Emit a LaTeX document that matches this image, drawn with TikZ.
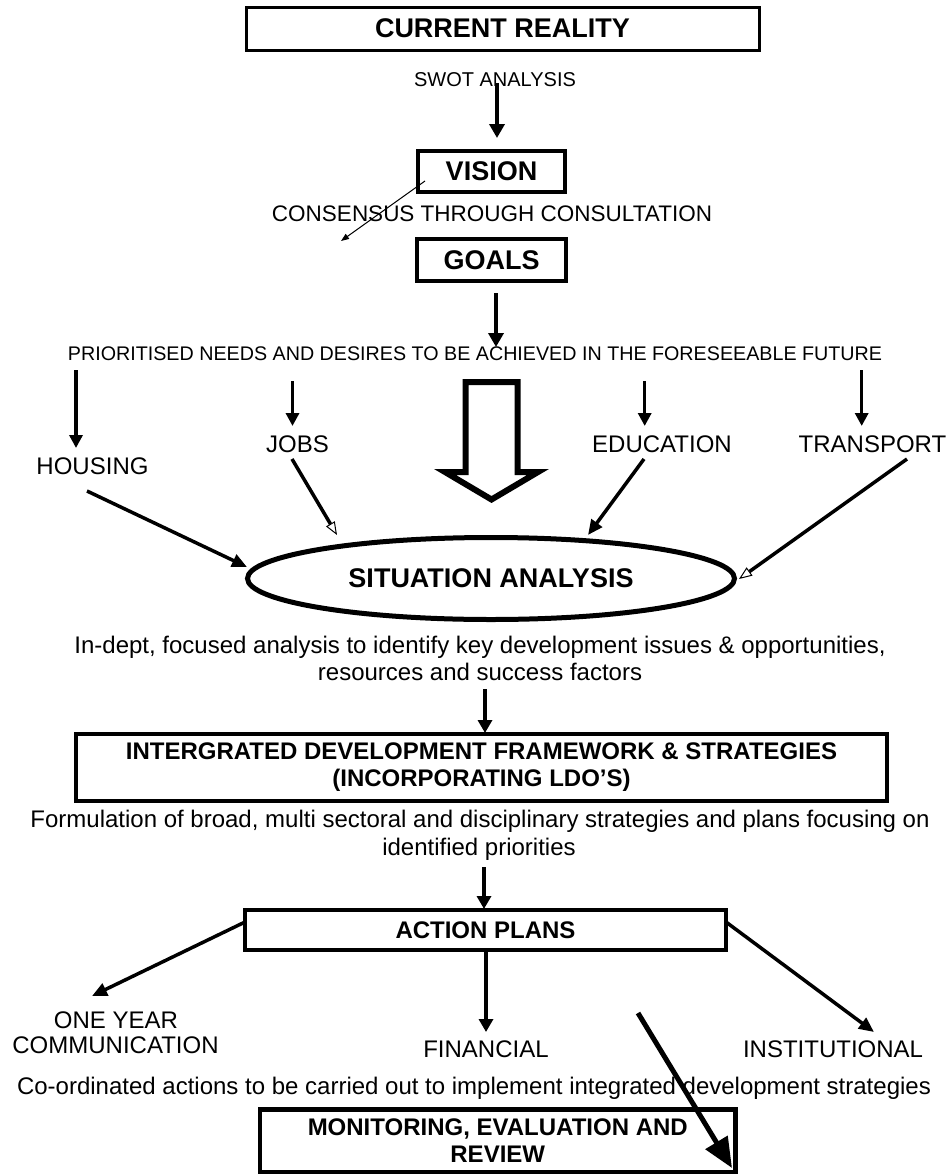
\documentclass[tikz,border=0pt]{standalone}
\usepackage{fontspec}
\setmainfont{Liberation Sans}
\usetikzlibrary{arrows.meta,shapes.geometric}
\newcommand\myfs[2]{\fontsize{#1pt}{#2pt}\selectfont}
\tikzset{
  boxed/.style={draw=black, line width=4pt, rectangle, inner sep=0pt, align=center, font=\bfseries\myfs{24}{27}},
  bigbox/.style={boxed, font=\bfseries\myfs{27}{30}},
  lbl/.style={inner sep=0pt, anchor=base, font=\myfs{24}{27}},
  mainarr/.style={line width=4.5pt, -{Triangle[width=15pt,length=14pt]}},
  medarr/.style={line width=3.5pt, -{Triangle[width=14pt,length=13pt]}},
  smallarr/.style={line width=3.5pt, -{Triangle[width=13pt,length=13pt]}},
  diagarr/.style={line width=3.5pt, -{Triangle[width=13pt,length=15pt]}},
  openarr/.style={line width=3.5pt, -{Triangle[width=10pt,length=13pt,fill=white,line width=1pt]}},
  thinarr/.style={line width=1pt, -{Triangle[width=6pt,length=8pt]}},
  hugearr/.style={line width=5pt, -{Triangle[width=25pt,length=30pt]}},
}
\begin{document}
\begin{tikzpicture}[x=1pt,y=-1pt]
\useasboundingbox (0,0) rectangle (949,1175);
\fill[white] (0,0) rectangle (949,1175);

% boxes and texts
\node[bigbox, line width=3pt, minimum width=513pt, minimum height=43pt] (cr) at (502.5,28.5) {CURRENT REALITY};
\node[lbl, font=\myfs{20}{24}] (swot) at (495,86) {SWOT ANALYSIS};
\node[bigbox, line width=3.5pt, minimum width=147pt, minimum height=41pt] (vision) at (491.5,171.5) {VISION};
\node[lbl, font=\myfs{22.5}{26}] (cons) at (492,221) {CONSENSUS THROUGH CONSULTATION};
\node[bigbox, line width=3.5pt, minimum width=149pt, minimum height=42pt] (goals) at (491.5,260) {GOALS};
\node[lbl, font=\myfs{19.7}{23}] (prior) at (475,360) {PRIORITISED NEEDS AND DESIRES TO BE ACHIEVED IN THE FORESEEABLE FUTURE};

\node[lbl] (housing) at (92.5,474) {HOUSING};
\node[lbl] (jobs) at (297.5,452) {JOBS};
\node[lbl] (edu) at (662,452) {EDUCATION};
\node[lbl] (trans) at (872.5,452) {TRANSPORT};

\node[draw, ellipse, line width=5pt, minimum width=487pt, minimum height=82pt, inner sep=0pt, font=\bfseries\myfs{27}{30}] (sit) at (491,578.5) {SITUATION ANALYSIS};

\node[lbl] (ind1) at (480,653) {In-dept, focused analysis to identify key development issues \& opportunities,};
\node[lbl] (ind2) at (480,680) {resources and success factors};

\node[boxed, minimum width=811pt, minimum height=67.5pt] (idf) at (481.5,767.5) {INTERGRATED DEVELOPMENT FRAMEWORK \& STRATEGIES\\(INCORPORATING LDO’S)};

\node[lbl] (form1) at (480,827) {Formulation of broad, multi sectoral and disciplinary strategies and plans focusing on};
\node[lbl] (form2) at (479,855) {identified priorities};

\node[boxed, minimum width=481pt, minimum height=40pt] (act) at (485.5,930) {ACTION PLANS};

\node[lbl] (one1) at (116,1028) {ONE YEAR};
\node[lbl] (one2) at (115.5,1053) {COMMUNICATION};
\node[lbl] (fin) at (486,1057) {FINANCIAL};
\node[lbl] (inst) at (833,1057) {INSTITUTIONAL};
\node[lbl] (coord) at (474,1094) {Co-ordinated actions to be carried out to implement integrated development strategies};

\node[boxed, line width=4.5pt, minimum width=475.5pt, minimum height=62.5pt] (mon) at (497.75,1140.75) {MONITORING, EVALUATION AND\\REVIEW};

% hollow block arrow
\draw[line width=6pt, line join=miter] (465.5,382) -- (465.5,472) -- (445,472) -- (491.5,499.5) -- (538,472) -- (517.5,472) -- (517.5,382) -- cycle;

% connector end points
\coordinate (a1s) at (497,83);   \coordinate (a1e) at (497,138);
\coordinate (ths) at (425,181);  \coordinate (the) at (341,241);
\coordinate (a2s) at (496,293);  \coordinate (a2e) at (496,347);
\coordinate (hds) at (76,370);   \coordinate (hde) at (76,448);
\coordinate (jds) at (292.5,381); \coordinate (jde) at (292.5,426);
\coordinate (eds) at (644.7,381); \coordinate (ede) at (644.7,426);
\coordinate (tds) at (861.7,370); \coordinate (tde) at (861.7,426);
\coordinate (hgs) at (87,491);   \coordinate (hge) at (247,567);
\coordinate (jgs) at (292,459);  \coordinate (jge) at (337,535);
\coordinate (egs) at (644,459);  \coordinate (ege) at (588,535);
\coordinate (tgs) at (907,459);  \coordinate (tge) at (739,579);
\coordinate (a3s) at (485,689);  \coordinate (a3e) at (485,733);
\coordinate (a4s) at (484,867);  \coordinate (a4e) at (484,909);
\coordinate (ls) at (245,922);   \coordinate (le) at (92,996);
\coordinate (rs) at (726,922);   \coordinate (re) at (874,1032);
\coordinate (fs) at (486,950);   \coordinate (fe) at (486,1032);
\coordinate (bs) at (638,1013);  \coordinate (be) at (732,1168);

\draw[mainarr] (a1s) -- (a1e);
\draw[thinarr] (ths) -- (the);
\draw[mainarr] (a2s) -- (a2e);
\draw[smallarr] (hds) -- (hde);
\draw[smallarr] (jds) -- (jde);
\draw[smallarr] (eds) -- (ede);
\draw[smallarr] (tds) -- (tde);
\draw[diagarr] (hgs) -- (hge);
\draw[openarr] (jgs) -- (jge);
\draw[diagarr] (egs) -- (ege);
\draw[openarr] (tgs) -- (tge);
\draw[medarr] (a3s) -- (a3e);
\draw[medarr] (a4s) -- (a4e);
\draw[diagarr] (ls) -- (le);
\draw[diagarr] (rs) -- (re);
\draw[medarr] (fs) -- (fe);
\draw[hugearr] (bs) -- (be);
\end{tikzpicture}
\end{document}
